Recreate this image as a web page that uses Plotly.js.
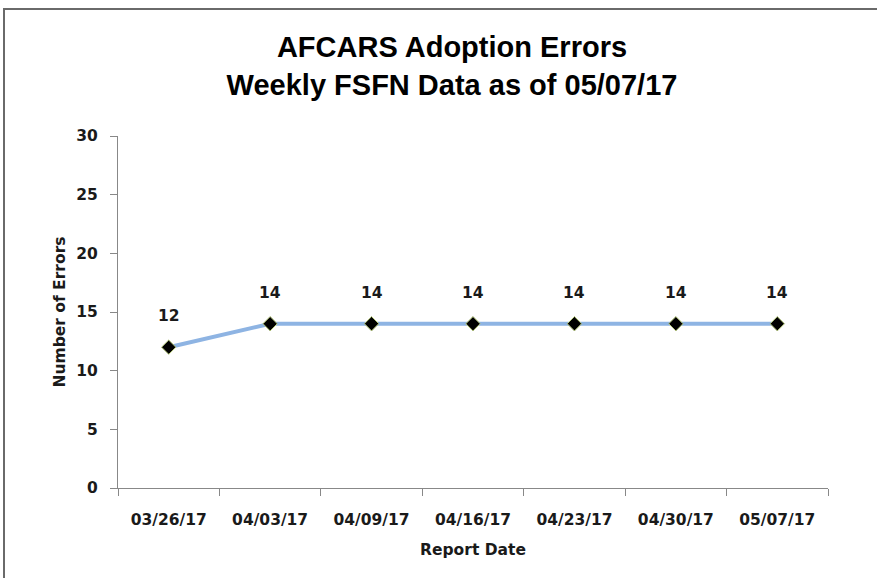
<!DOCTYPE html>
<html>
<head>
<meta charset="utf-8">
<script src="https://cdn.plot.ly/plotly-3.0.1.min.js"></script>
<style>
  html, body { margin: 0; padding: 0; background: #fff; }
  #wrap { position: relative; width: 877px; height: 578px; overflow: hidden; }
  #chart { position: absolute; left: 0; top: 0; width: 877px; height: 578px; }
  #frame { position: absolute; left: 3px; top: 8px; width: 880px; height: 580px;
           border-top: 2px solid #6a6a6a; border-left: 2px solid #6a6a6a; pointer-events: none; }
</style>
</head>
<body>
<div id="wrap">
  <div id="chart"></div>
  <div id="frame"></div>
</div>
<script>
const reportDates = ["03/26/17", "04/03/17", "04/09/17", "04/16/17", "04/23/17", "04/30/17", "05/07/17"];
const errorCounts = [12, 14, 14, 14, 14, 14, 14];
const yTicks = [0, 5, 10, 15, 20, 25, 30];

const labelFont = { family: "'DejaVu Sans', sans-serif", size: 15.5, color: "#1a1a1a", weight: 700 };

const trace = {
  type: "scatter",
  mode: "lines+markers",
  x: reportDates,
  y: errorCounts,
  line: { color: "#8EB4E3", width: 4 },
  marker: { symbol: "diamond", size: 11, color: "#000000", line: { color: "#b5c77a", width: 1 } },
  hoverinfo: "skip",
  cliponaxis: false
};

const annotations = reportDates.map((d, i) => ({
  x: d, y: errorCounts[i], xref: "x", yref: "y",
  text: String(errorCounts[i]),
  showarrow: false, yshift: 31,
  font: labelFont
}));

const layout = {
  width: 877, height: 578,
  margin: { l: 118, r: 49, t: 136, b: 90 },
  paper_bgcolor: "rgba(0,0,0,0)",
  plot_bgcolor: "rgba(0,0,0,0)",
  showlegend: false,
  title: {
    text: "<b>AFCARS Adoption Errors</b><br><b>Weekly FSFN Data as of 05/07/17</b>",
    font: { family: "'Liberation Sans', Arial, sans-serif", size: 29, color: "#000" },
    x: 452 / 877, xref: "container", xanchor: "center",
    y: 1 - 57 / 578, yref: "container", yanchor: "top"
  },
  xaxis: {
    type: "category",
    categoryorder: "array", categoryarray: reportDates,
    range: [-0.5, 6.5],
    tickson: "boundaries",
    ticks: "outside", ticklen: 7, tickcolor: "#888", tickwidth: 1,
    showline: true, linecolor: "#888", linewidth: 1,
    showgrid: false, zeroline: false,
    tickfont: labelFont,
    ticklabelstandoff: 17,
    title: { text: "<b>Report Date</b>", font: labelFont, standoff: 16 },
    fixedrange: true
  },
  yaxis: {
    range: [0, 30],
    tickvals: yTicks,
    ticks: "outside", ticklen: 7, tickcolor: "#888", tickwidth: 1,
    showline: true, linecolor: "#888", linewidth: 1,
    showgrid: false, zeroline: false,
    tickfont: labelFont,
    ticklabelstandoff: 9,
    title: { text: "<b>Number of Errors</b>", font: labelFont, standoff: 6 },
    fixedrange: true
  },
  annotations: annotations
};

Plotly.newPlot("chart", [trace], layout, { displayModeBar: false, staticPlot: true });
</script>
</body>
</html>
